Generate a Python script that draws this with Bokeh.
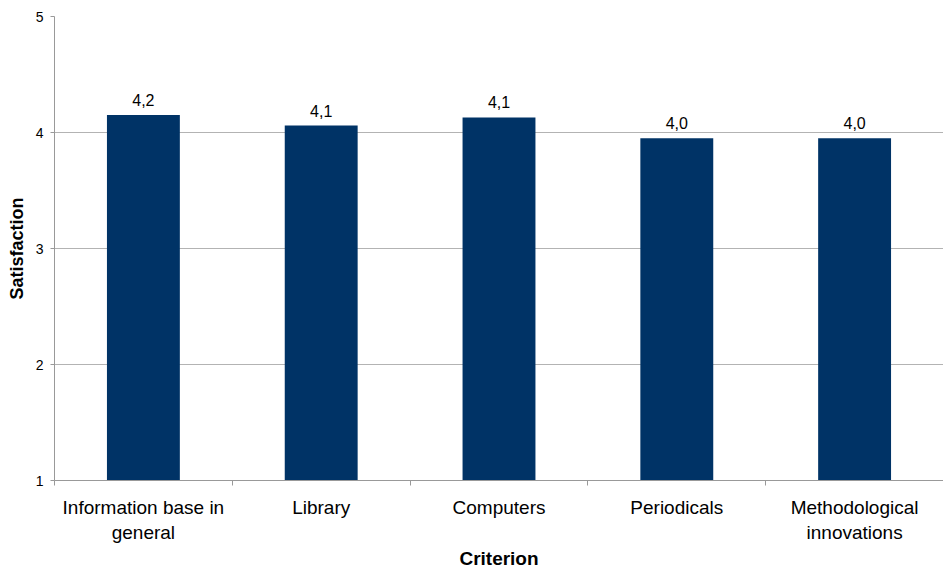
from bokeh.plotting import figure
from bokeh.models import ColumnDataSource, FixedTicker, Range1d
from bokeh.core.properties import value
from bokeh.embed import file_html
from bokeh.resources import INLINE

categories = ["Information base in\ngeneral", "Library", "Computers", "Periodicals",
              "Methodological\ninnovations"]
satisfaction = [4.15, 4.06, 4.13, 3.95, 3.95]
y_ticks = [1, 2, 3, 4, 5]

FONT = "Liberation Sans"
BAR = "#003366"

xs = [i + 0.5 for i in range(len(categories))]
labels = [f"{v:.1f}".replace(".", ",") for v in satisfaction]
src = ColumnDataSource(dict(x=xs, top=satisfaction, label=labels))

p = figure(width=943, height=571, output_backend="svg", toolbar_location=None,
           x_range=Range1d(0, len(categories)), y_range=Range1d(1, 5),
           min_border_left=54, min_border_right=0, min_border_top=16, min_border_bottom=91)
p.outline_line_color = None
p.background_fill_color = "white"
p.border_fill_color = "white"

p.vbar(x="x", top="top", bottom=1, width=0.41, source=src, fill_color=BAR, line_color=None)
p.text(x="x", y="top", text="label", source=src, text_align="center",
       text_baseline="bottom", y_offset=-9, text_font=value(FONT),
       text_font_size="16px", text_color="#000000")

# x axis: labels at category centres, ticks at category boundaries
p.xaxis.ticker = FixedTicker(ticks=xs, minor_ticks=list(range(len(categories) + 1)))
p.xaxis.major_label_overrides = {x: c for x, c in zip(xs, categories)}
p.xaxis.major_tick_out = 0
p.xaxis.major_tick_in = 0
p.xaxis.minor_tick_out = 5
p.xaxis.minor_tick_in = 0
p.xaxis.minor_tick_line_color = "#999999"
p.xaxis.major_label_standoff = 11
p.xaxis.axis_label = "Criterion"
p.xaxis.axis_label_standoff = 2
p.xaxis.axis_label_text_font_size = "19px"

p.yaxis.ticker = FixedTicker(ticks=y_ticks, minor_ticks=[])
p.yaxis.major_tick_out = 4
p.yaxis.major_tick_in = 0
p.yaxis.major_label_standoff = 7
p.yaxis.axis_label = "Satisfaction"
p.yaxis.axis_label_standoff = 6
p.yaxis.axis_label_text_font_size = "18px"

for ax in (p.xaxis, p.yaxis):
    ax.axis_line_color = "#999999"
    ax.major_tick_line_color = "#999999"
    ax.major_label_text_font = FONT
    ax.major_label_text_color = "#000000"
    ax.axis_label_text_font = FONT
    ax.axis_label_text_font_style = "bold"
    ax.axis_label_text_color = "#000000"

p.xaxis.major_label_text_font_size = "19px"
p.yaxis.major_label_text_font_size = "14px"

p.xgrid.grid_line_color = None
p.ygrid.grid_line_color = "#b3b3b3"
p.ygrid.grid_line_width = 1

open("out.html", "w").write(file_html(p, INLINE))
